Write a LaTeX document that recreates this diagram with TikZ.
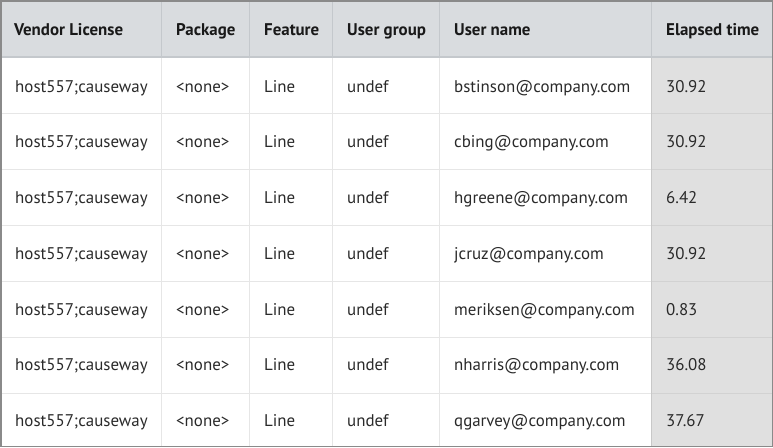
\documentclass[tikz,border=0pt]{standalone}
\usepackage{fontspec}
\setmainfont{PT Sans}
\definecolor{hdr}{HTML}{D9DCDF}
\definecolor{hdrline}{HTML}{C4C8CC}
\definecolor{gridc}{HTML}{E6E6E6}
\definecolor{lastcol}{HTML}{E0E0E0}
\definecolor{lastline}{HTML}{C8C8C8}
\definecolor{outer}{HTML}{8A8A8A}
\definecolor{txt}{HTML}{2A2A2A}
\tikzset{
  cell/.style={anchor=base west, inner sep=0pt, text=txt, font=\fontsize{16.9}{19}\selectfont},
  hcell/.style={cell, text=black!90, font=\fontsize{16.9}{19}\selectfont\bfseries},
}
\begin{document}
\begin{tikzpicture}[x=1pt,y=-1pt]
\useasboundingbox (0,0) rectangle (773,447);
% backgrounds
\fill[white] (0,0) rectangle (773,447);
\fill[hdr] (0,0) rectangle (773,57);
\fill[lastcol] (651,57) rectangle (773,447);
% row lines
\foreach \y in {113,169,225,281,337,393}{
  \draw[gridc, line width=1pt] (0,\y) -- (651,\y);
  \draw[lastline!60!lastcol, line width=1pt] (651,\y) -- (773,\y);
}
% column lines
\foreach \x in {161,249,332,439}{
  \draw[gridc, line width=1pt] (\x,57) -- (\x,447);
  \draw[hdrline, line width=1pt] (\x,0) -- (\x,57);
}
\draw[hdrline, line width=1pt] (651,0) -- (651,57);
\draw[lastline, line width=1pt] (651,57) -- (651,447);
\draw[hdrline, line width=1.5pt] (0,57) -- (773,57);
% outer border
\draw[outer, line width=1.5pt] (0.75,0.75) rectangle (772.25,446.25);
% header
\node[hcell] (h1) at (14,35.6) {Vendor License};
\node[hcell] (h2) at (176,35.6) {Package};
\node[hcell] (h3) at (264,35.6) {Feature};
\node[hcell] (h4) at (347,35.6) {User group};
\node[hcell] (h5) at (454,35.6) {User name};
\node[hcell] (h6) at (666,35.6) {Elapsed time};
% rows
\foreach \i/\u/\t in {0/bstinson/30.92,1/cbing/30.92,2/hgreene/6.42,3/jcruz/30.92,4/meriksen/0.83,5/nharris/36.08,6/qgarvey/37.67}{
  \pgfmathsetmacro{\yy}{92.2+55.7*\i}
  \node[cell] (a\i) at (15,\yy) {host557;causeway};
  \node[cell] (b\i) at (176,\yy) {<none>};
  \node[cell] (c\i) at (264,\yy) {Line};
  \node[cell] (d\i) at (347,\yy) {undef};
  \node[cell] (e\i) at (454,\yy) {\u @company.com};
  \node[cell] (f\i) at (666,\yy) {\t};
}
\end{tikzpicture}
\end{document}
